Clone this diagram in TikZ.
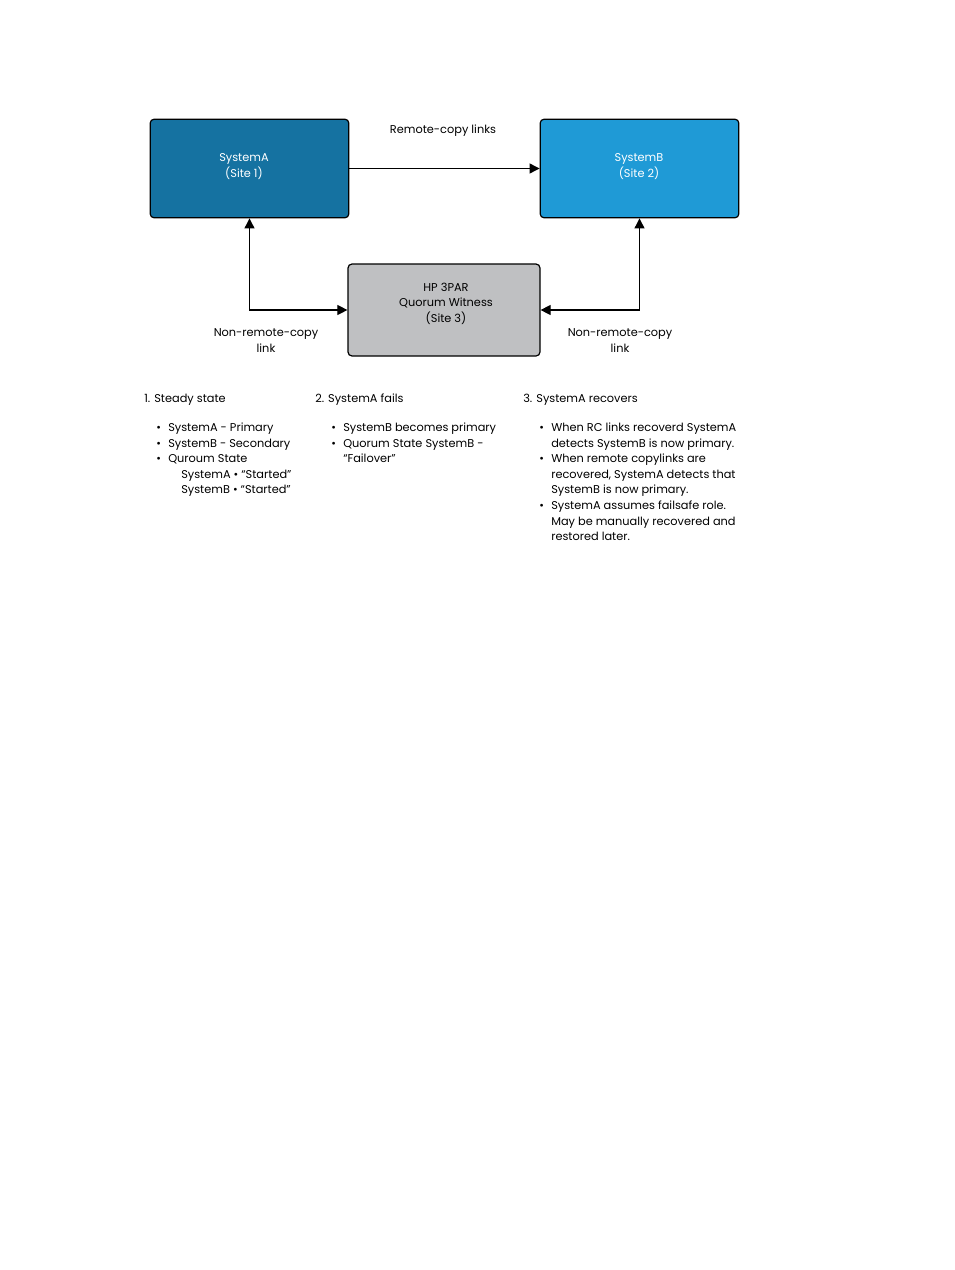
\documentclass[tikz,border=0pt]{standalone}
\usepackage{fontspec}
\setmainfont{Poppins}
\usetikzlibrary{arrows.meta,positioning}
\definecolor{siteA}{HTML}{1572A1}
\definecolor{siteB}{HTML}{1F9AD6}
\definecolor{witness}{HTML}{BFC0C2}
\tikzset{
  sysbox/.style={draw=black, line width=0.9pt, rounded corners=3pt,
    minimum width=149pt, minimum height=74pt},
  link/.style={line width=0.8pt, -{Triangle[length=7.5pt,width=7.5pt]}},
  twolink/.style={line width=0.8pt, {Triangle[length=7.5pt,width=7.5pt]}-{Triangle[length=7.5pt,width=7.5pt]}},
  note/.style={anchor=north west, inner sep=0pt, align=left, yshift=8.12pt,
    execute at begin node=\strut},
  notes/.style={note, yshift=-2pt},
  lbl/.style={align=center, inner sep=0pt},
}
\begin{document}
\begin{tikzpicture}[x=0.75pt,y=-0.75pt,font=\fontsize{8.5}{11.6}\selectfont]
  \useasboundingbox (0,0) rectangle (954,1270);
  % the three sites
  \node[sysbox, fill=siteA] (sysA) at (249.5,168.5) {};
  \node[sysbox, fill=siteB] (sysB) at (639.5,168.5) {};
  \node[sysbox, fill=witness, minimum width=144pt, minimum height=69pt] (qw) at (444,310) {};
  \node[lbl, text=white] (sysAtxt) at (244,166.5) {SystemA\\(Site 1)};
  \node[lbl, text=white] (sysBtxt) at (639,166.5) {SystemB\\(Site 2)};
  \node[lbl] (qwtxt) at (446,303.5) {HP 3PAR\\Quorum Witness\\(Site 3)};
  % links
  \draw[link] (sysA) -- (sysB);
  \node[lbl] (rclbl) at (443,130.5) {Remote-copy links};
  \draw[twolink] (sysA.south) |- (qw.west);
  \draw[twolink] (sysB.south) |- (qw.east);
  \node[lbl] (nrcA) at (266,340.5) {Non-remote-copy\\link};
  \node[lbl] (nrcB) at (620,340.5) {Non-remote-copy\\link};
  % 1. steady state
  \node[note] (h1) at (144,402) {1. Steady state};
  \foreach \y/\t [count=\i] in {431/SystemA - Primary, 447/SystemB - Secondary, 462/Quroum State} {
    \node[note] (b1\i) at (156,\y) {•};
    \node[note] (t1\i) at (168,\y) {\t};
  }
  \node[notes] (q1) at (181,478) {SystemA • “Started”\\SystemB • “Started”};
  % 2. SystemA fails
  \node[note] (h2) at (315,402) {2. SystemA fails};
  \node[note] (b21) at (331,431) {•};
  \node[note] (t21) at (343,431) {SystemB becomes primary};
  \node[note] (b22) at (331,447) {•};
  \node[notes] (t22) at (343,447) {Quorum State SystemB -\\“Failover”};
  % 3. SystemA recovers
  \node[note] (h3) at (523,402) {3. SystemA recovers};
  \node[note] (b31) at (539,431) {•};
  \node[notes] (t31) at (551,431) {When RC links recoverd SystemA\\detects SystemB is now primary.};
  \node[note] (b32) at (539,462) {•};
  \node[notes] (t32) at (551,462) {When remote copylinks are\\recovered, SystemA detects that\\SystemB is now primary.};
  \node[note] (b33) at (539,509) {•};
  \node[notes] (t33) at (551,509) {SystemA assumes failsafe role.\\May be manually recovered and\\restored later.};
\end{tikzpicture}
\end{document}
